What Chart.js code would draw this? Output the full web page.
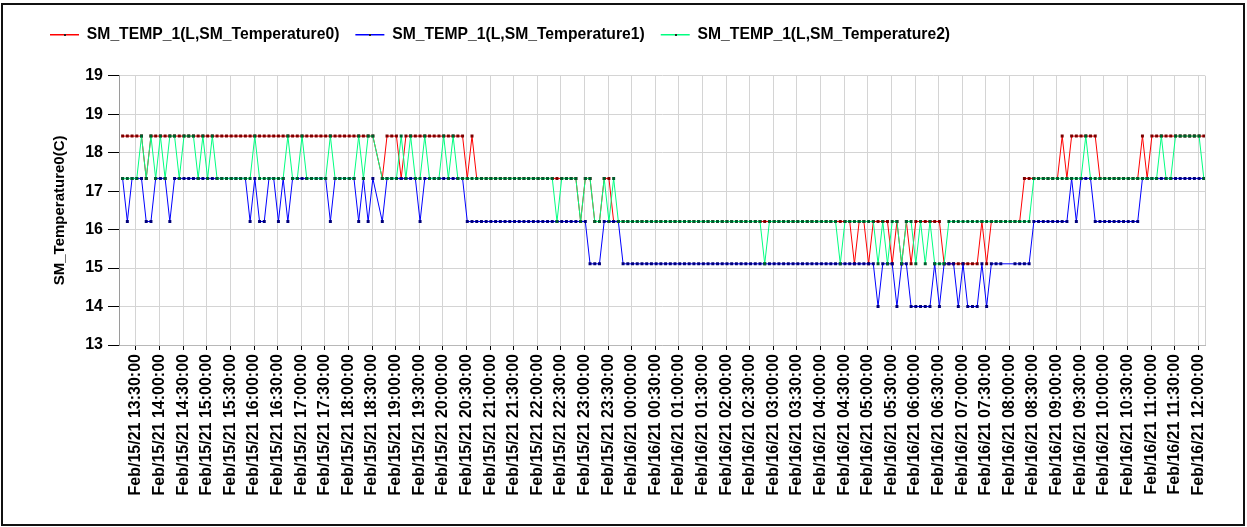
<!DOCTYPE html>
<html>
<head>
<meta charset="utf-8">
<title>SM_TEMP_1</title>
<script src="https://cdn.jsdelivr.net/npm/chart.js@4.4.1/dist/chart.umd.min.js"></script>
<style>
  html, body { margin: 0; padding: 0; background: #fff; }
  #wrap { position: relative; width: 1247px; height: 527px; }
  #wrap canvas { position: absolute; left: 0; top: 0; }
  #frame { position: absolute; left: 1px; top: 3px; width: 1240px; height: 519px; border: 2px solid #111; pointer-events: none; }
</style>
</head>
<body>
<div id="wrap">
  <canvas id="chart" width="1247" height="527"></canvas>
  <div id="frame"></div>
</div>
<script>
// --- DATA ---
const seriesNames = [
  'SM_TEMP_1(L,SM_Temperature0)',
  'SM_TEMP_1(L,SM_Temperature1)',
  'SM_TEMP_1(L,SM_Temperature2)'
];

// one sample every 6 minutes, first one at Feb/15 13:13
const sampleStartMin = 13 * 60 + 13;
const sampleStepMin = 6;

const temp0 = [
  18.43, 18.43, 18.43, 18.43, 18.43, 17.33, 18.43, 18.43, 18.43, 18.43,
  18.43, 18.43, 18.43, 18.43, 18.43, 18.43, 18.43, 18.43, 18.43, 18.43,
  18.43, 18.43, 18.43, 18.43, 18.43, 18.43, 18.43, 18.43, 18.43, 18.43,
  18.43, 18.43, 18.43, 18.43, 18.43, 18.43, 18.43, 18.43, 18.43, 18.43,
  18.43, 18.43, 18.43, 18.43, 18.43, 18.43, 18.43, 18.43, 18.43, 18.43,
  18.43, 18.43, 18.43, 18.43, null, 17.33, 18.43, 18.43, 18.43, 17.33,
  18.43, 18.43, 18.43, 18.43, 18.43, 18.43, 18.43, 18.43, 18.43, 18.43,
  18.43, 18.43, 18.43, 17.33, 18.43, 17.33, 17.33, 17.33, 17.33, 17.33,
  17.33, 17.33, 17.33, 17.33, 17.33, 17.33, 17.33, 17.33, 17.33, 17.33,
  17.33, 17.33, 17.33, 17.33, 17.33, 17.33, 17.33, 16.21, 17.33, 17.33,
  16.21, 16.21, 17.33, 17.33, 16.21, 16.21, 16.21, 16.21, 16.21, 16.21,
  16.21, 16.21, 16.21, 16.21, 16.21, 16.21, 16.21, 16.21, 16.21, 16.21,
  16.21, 16.21, 16.21, 16.21, 16.21, 16.21, 16.21, 16.21, 16.21, 16.21,
  16.21, 16.21, 16.21, 16.21, 16.21, 16.21, 16.21, 16.21, 16.21, 16.21,
  16.21, 16.21, 16.21, 16.21, 16.21, 16.21, 16.21, 16.21, 16.21, 16.21,
  16.21, 16.21, 16.21, 16.21, 16.21, 15.11, 16.21, 16.21, 15.11, 16.21,
  16.21, 16.21, 16.21, 15.11, 16.21, 15.11, 16.21, 15.11, 16.21, 16.21,
  16.21, 16.21, 16.21, 16.21, 15.11, 15.11, 15.11, 15.11, 15.11, 15.11,
  15.11, 15.11, 16.21, 15.11, 16.21, 16.21, 16.21, 16.21, 16.21, 16.21,
  16.21, 17.33, 17.33, 17.33, 17.33, 17.33, 17.33, 17.33, 17.33, 18.43,
  17.33, 18.43, 18.43, 18.43, 18.43, 18.43, 18.43, 17.33, 17.33, 17.33,
  17.33, 17.33, 17.33, 17.33, 17.33, 17.33, 18.43, 17.33, 18.43, 18.43,
  18.43, 18.43, 18.43, 18.43, 18.43, 18.43, 18.43, 18.43, 18.43, 18.43
];

const temp1 = [
  17.33, 16.21, 17.33, 17.33, 17.33, 16.21, 16.21, 17.33, 17.33, 17.33,
  16.21, 17.33, 17.33, 17.33, 17.33, 17.33, 17.33, 17.33, 17.33, 17.33,
  17.33, 17.33, 17.33, 17.33, 17.33, 17.33, 17.33, 16.21, 17.33, 16.21,
  16.21, 17.33, 17.33, 16.21, 17.33, 16.21, 17.33, 17.33, 17.33, 17.33,
  17.33, 17.33, 17.33, 17.33, 16.21, 17.33, 17.33, 17.33, 17.33, 17.33,
  16.21, 17.33, 16.21, 17.33, null, 16.21, 17.33, 17.33, 17.33, 17.33,
  17.33, 17.33, 17.33, 16.21, 17.33, 17.33, 17.33, 17.33, 17.33, 17.33,
  17.33, 17.33, 17.33, 16.21, 16.21, 16.21, 16.21, 16.21, 16.21, 16.21,
  16.21, 16.21, 16.21, 16.21, 16.21, 16.21, 16.21, 16.21, 16.21, 16.21,
  16.21, 16.21, 16.21, 16.21, 16.21, 16.21, 16.21, 16.21, 16.21, 15.11,
  15.11, 15.11, 16.21, 16.21, 16.21, 16.21, 15.11, 15.11, 15.11, 15.11,
  15.11, 15.11, 15.11, 15.11, 15.11, 15.11, 15.11, 15.11, 15.11, 15.11,
  15.11, 15.11, 15.11, 15.11, 15.11, 15.11, 15.11, 15.11, 15.11, 15.11,
  15.11, 15.11, 15.11, 15.11, 15.11, 15.11, 15.11, 15.11, 15.11, 15.11,
  15.11, 15.11, 15.11, 15.11, 15.11, 15.11, 15.11, 15.11, 15.11, 15.11,
  15.11, 15.11, 15.11, 15.11, 15.11, 15.11, 15.11, 15.11, 15.11, 15.11,
  14.0, 15.11, 15.11, 15.11, 14.0, 15.11, 15.11, 14.0, 14.0, 14.0,
  14.0, 14.0, 15.11, 14.0, 15.11, 15.11, 15.11, 14.0, 15.11, 14.0,
  14.0, 14.0, 15.11, 14.0, 15.11, 15.11, 15.11, null, null, 15.11,
  15.11, 15.11, 15.11, 16.21, 16.21, 16.21, 16.21, 16.21, 16.21, 16.21,
  16.21, 17.33, 16.21, 17.33, 17.33, 17.33, 16.21, 16.21, 16.21, 16.21,
  16.21, 16.21, 16.21, 16.21, 16.21, 16.21, 17.33, 17.33, 17.33, 17.33,
  17.33, 17.33, 17.33, 17.33, 17.33, 17.33, 17.33, 17.33, 17.33, 17.33
];

const temp2 = [
  17.33, 17.33, 17.33, 17.33, 18.43, 17.33, 18.43, 17.33, 18.43, 17.33,
  18.43, 18.43, 17.33, 18.43, 18.43, 18.43, 17.33, 18.43, 17.33, 18.43,
  17.33, 17.33, 17.33, 17.33, 17.33, 17.33, 17.33, 17.33, 18.43, 17.33,
  17.33, 17.33, 17.33, 17.33, 17.33, 18.43, 17.33, 17.33, 18.43, 17.33,
  17.33, 17.33, 17.33, 17.33, 18.43, 17.33, 17.33, 17.33, 17.33, 17.33,
  18.43, 17.33, 18.43, 18.43, null, 17.33, 17.33, 17.33, 17.33, 18.43,
  17.33, 18.43, 17.33, 17.33, 18.43, 17.33, 17.33, 17.33, 18.43, 17.33,
  18.43, 17.33, 17.33, 17.33, 17.33, 17.33, 17.33, 17.33, 17.33, 17.33,
  17.33, 17.33, 17.33, 17.33, 17.33, 17.33, 17.33, 17.33, 17.33, 17.33,
  17.33, 17.33, 16.21, 17.33, 17.33, 17.33, 17.33, 16.21, 17.33, 17.33,
  16.21, 16.21, 17.33, 16.21, 17.33, 16.21, 16.21, 16.21, 16.21, 16.21,
  16.21, 16.21, 16.21, 16.21, 16.21, 16.21, 16.21, 16.21, 16.21, 16.21,
  16.21, 16.21, 16.21, 16.21, 16.21, 16.21, 16.21, 16.21, 16.21, 16.21,
  16.21, 16.21, 16.21, 16.21, 16.21, 16.21, 15.11, 16.21, 16.21, 16.21,
  16.21, 16.21, 16.21, 16.21, 16.21, 16.21, 16.21, 16.21, 16.21, 16.21,
  16.21, 16.21, 15.11, 16.21, 16.21, 16.21, 16.21, 16.21, 16.21, 16.21,
  15.11, 16.21, 15.11, 16.21, 16.21, 15.11, 16.21, 16.21, 15.11, 16.21,
  15.11, 16.21, 15.11, 15.11, 15.11, 16.21, 16.21, 16.21, 16.21, 16.21,
  16.21, 16.21, 16.21, 16.21, 16.21, 16.21, 16.21, 16.21, 16.21, 16.21,
  16.21, 16.21, 16.21, 17.33, 17.33, 17.33, 17.33, 17.33, 17.33, 17.33,
  17.33, 17.33, 17.33, 17.33, 18.43, 17.33, 17.33, 17.33, 17.33, 17.33,
  17.33, 17.33, 17.33, 17.33, 17.33, 17.33, 17.33, 17.33, 17.33, 17.33,
  18.43, 17.33, 17.33, 18.43, 18.43, 18.43, 18.43, 18.43, 18.43, 17.33
];

const tickLabels = [
  'Feb/15/21 13:30:00', 'Feb/15/21 14:00:00', 'Feb/15/21 14:30:00', 'Feb/15/21 15:00:00',
  'Feb/15/21 15:30:00', 'Feb/15/21 16:00:00', 'Feb/15/21 16:30:00', 'Feb/15/21 17:00:00',
  'Feb/15/21 17:30:00', 'Feb/15/21 18:00:00', 'Feb/15/21 18:30:00', 'Feb/15/21 19:00:00',
  'Feb/15/21 19:30:00', 'Feb/15/21 20:00:00', 'Feb/15/21 20:30:00', 'Feb/15/21 21:00:00',
  'Feb/15/21 21:30:00', 'Feb/15/21 22:00:00', 'Feb/15/21 22:30:00', 'Feb/15/21 23:00:00',
  'Feb/15/21 23:30:00', 'Feb/16/21 00:00:00', 'Feb/16/21 00:30:00', 'Feb/16/21 01:00:00',
  'Feb/16/21 01:30:00', 'Feb/16/21 02:00:00', 'Feb/16/21 02:30:00', 'Feb/16/21 03:00:00',
  'Feb/16/21 03:30:00', 'Feb/16/21 04:00:00', 'Feb/16/21 04:30:00', 'Feb/16/21 05:00:00',
  'Feb/16/21 05:30:00', 'Feb/16/21 06:00:00', 'Feb/16/21 06:30:00', 'Feb/16/21 07:00:00',
  'Feb/16/21 07:30:00', 'Feb/16/21 08:00:00', 'Feb/16/21 08:30:00', 'Feb/16/21 09:00:00',
  'Feb/16/21 09:30:00', 'Feb/16/21 10:00:00', 'Feb/16/21 10:30:00', 'Feb/16/21 11:00:00',
  'Feb/16/21 11:30:00', 'Feb/16/21 12:00:00'
];

// the top label really reads 19 twice in the original
const yTickLabels = ['13', '14', '15', '16', '17', '18', '19', '19'];

// --- HELPERS ---

// 'Feb/16/21 08:30:00' -> minutes counted from Feb/15 00:00
function toMinutes(label) {
  const [date, time] = label.split(' ');
  const day = Number(date.split('/')[1]);
  const [h, m] = time.split(':').map(Number);
  return (day - 15) * 1440 + h * 60 + m;
}

const tickMinutes = tickLabels.map(toMinutes);

function toPoints(values) {
  return values.map((v, i) => ({ x: sampleStartMin + i * sampleStepMin, y: v }));
}

// leaves room between the legend row and the plot
const legendGap = {
  id: 'legendGap',
  beforeLayout(chart) {
    const legend = chart.legend;
    if (!legend || legend._gapPatched) return;
    const fit = legend.fit;
    legend.fit = function () {
      fit.call(this);
      this.height += 23;
    };
    legend._gapPatched = true;
  }
};

// small dot on each legend line + light right edge of the plot
const extras = {
  id: 'extras',
  afterDraw(chart) {
    const ctx = chart.ctx;
    const area = chart.chartArea;
    ctx.save();
    ctx.strokeStyle = '#d0d0d0';
    ctx.lineWidth = 1;
    ctx.beginPath();
    ctx.moveTo(Math.round(area.right) + 0.5, area.top);
    ctx.lineTo(Math.round(area.right) + 0.5, area.bottom);
    ctx.stroke();
    ctx.fillStyle = '#222';
    (chart.legend.legendHitBoxes || []).forEach((box) => {
      ctx.fillRect(Math.round(box.left + 14), Math.round(box.top + box.height / 2 - 1), 2, 2);
    });
    ctx.restore();
  }
};

// --- CHART ---
Chart.defaults.font.family = '"Liberation Sans", Arial, sans-serif';
Chart.defaults.color = '#000';

const lineStyles = [
  { line: '#ff0000', dot: '#7a0000', order: 3 },
  { line: '#0000ff', dot: '#00007a', order: 2 },
  { line: '#00ff80', dot: '#005a2c', order: 1 }
];

const seriesValues = [temp0, temp1, temp2];

new Chart(document.getElementById('chart'), {
  type: 'line',
  data: {
    datasets: seriesValues.map((values, i) => ({
      label: seriesNames[i],
      data: toPoints(values),
      borderColor: lineStyles[i].line,
      backgroundColor: lineStyles[i].line,
      borderWidth: 1,
      pointStyle: 'rect',
      pointRadius: 2.1,
      pointBorderWidth: 0,
      pointBackgroundColor: lineStyles[i].dot,
      tension: 0,
      spanGaps: true,
      order: lineStyles[i].order
    }))
  },
  options: {
    responsive: false,
    animation: false,
    devicePixelRatio: 1,
    events: [],
    layout: { padding: { left: 34, right: 42, top: 11, bottom: 0 } },
    plugins: {
      tooltip: { enabled: false },
      legend: {
        align: 'start',
        labels: {
          usePointStyle: true,
          pointStyle: 'line',
          pointStyleWidth: 29,
          padding: 16,
          color: '#000',
          font: { size: 15.7, weight: 'bold' },
          sort: (a, b) => a.datasetIndex - b.datasetIndex,
          // legend entries are plain coloured lines, not the point squares
          generateLabels(chart) {
            const items = Chart.defaults.plugins.legend.labels.generateLabels(chart);
            return items.map((item) => ({
              ...item,
              strokeStyle: lineStyles[item.datasetIndex].line,
              fillStyle: lineStyles[item.datasetIndex].line,
              lineWidth: 1.5
            }));
          }
        }
      }
    },
    scales: {
      x: {
        type: 'linear',
        min: 788.4,
        max: 2168.5,
        afterBuildTicks(scale) {
          scale.ticks = tickMinutes.map((v) => ({ value: v }));
        },
        afterFit(scale) {
          scale.height = 182;
        },
        ticks: {
          autoSkip: false,
          minRotation: 90,
          maxRotation: 90,
          padding: 4,
          color: '#000',
          font: { size: 16, weight: 'bold' },
          callback: (value, index) => tickLabels[index]
        },
        grid: { color: '#d4d4d4', tickColor: '#000', tickLength: 5 },
        border: { color: '#b8b8b8' }
      },
      y: {
        min: 13,
        max: 20,
        afterFit(scale) {
          scale.width = 85;
        },
        ticks: {
          stepSize: 1,
          padding: 5,
          color: '#000',
          font: { size: 16, weight: 'bold' },
          callback: (value, index) => yTickLabels[index]
        },
        grid: { color: '#d4d4d4', tickColor: '#000', tickLength: 11 },
        border: { color: '#9a9a9a' },
        title: {
          display: true,
          text: 'SM_Temperature0(C)',
          color: '#000',
          font: { size: 15, weight: 'bold' },
          padding: { top: 17, bottom: 0 }
        }
      }
    }
  },
  plugins: [legendGap, extras]
});
</script>
</body>
</html>
